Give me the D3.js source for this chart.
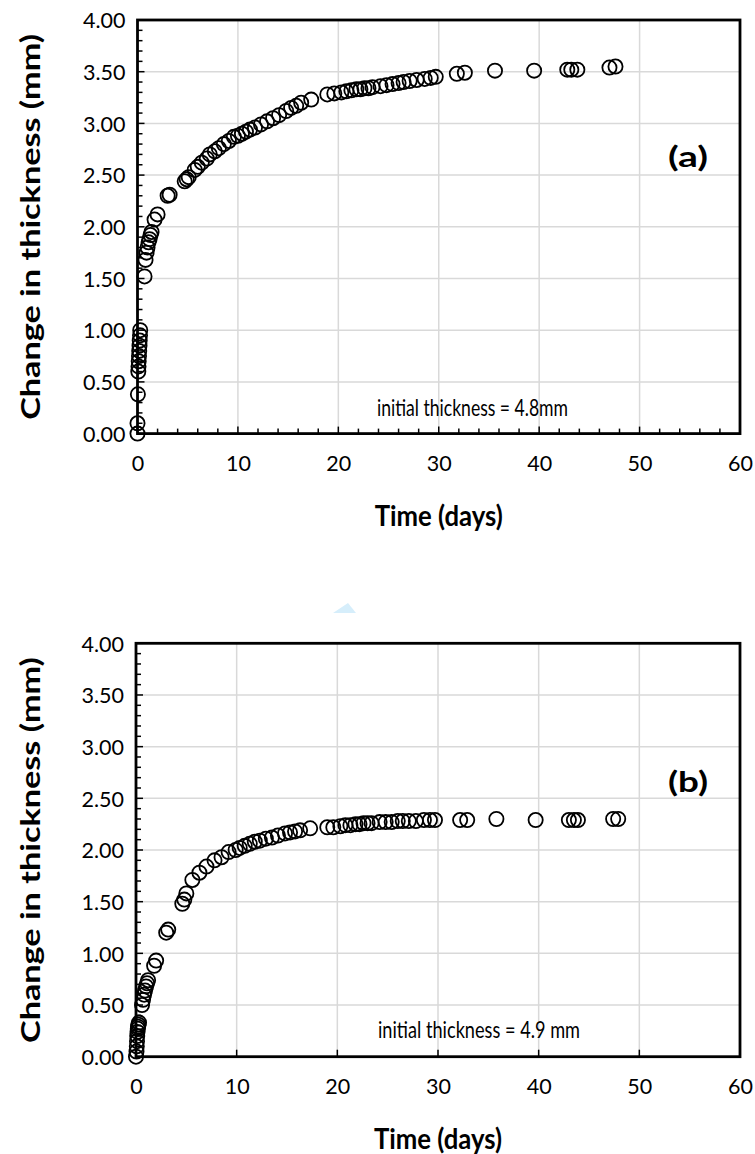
<!DOCTYPE html>
<html>
<head>
<meta charset="utf-8">
<script src="https://cdn.jsdelivr.net/npm/d3@7"></script>
<style>
  html, body { margin: 0; padding: 0; background: #fff; }
  svg { display: block; }
  text { font-family: Lato, "Open Sans", sans-serif; fill: #000; }
</style>
</head>
<body>
<svg id="chart" width="755" height="1154"></svg>
<script>
// ---- Data ----
const xTicks = [0, 10, 20, 30, 40, 50, 60];
const yTicks = [0, 0.5, 1, 1.5, 2, 2.5, 3, 3.5, 4];

const timeA = [0,0,0.04,0.08,0.1,0.12,0.15,0.17,0.2,0.22,0.25,0.27,
  0.7,0.8,0.9,1.0,1.1,1.2,1.3,1.4,1.7,2.0,3.0,3.2,4.7,4.9,5.1,
  5.7,6.0,6.4,6.9,7.2,7.7,8.1,8.6,9.1,9.6,10.0,10.4,10.8,11.2,11.7,12.3,12.9,13.5,14.1,14.8,15.3,15.8,16.3,17.3,
  18.9,19.6,20.3,20.8,21.3,21.8,22.2,22.6,23.0,23.4,24.2,24.8,25.4,26.0,26.5,27.1,27.8,28.6,29.2,29.7,
  31.8,32.6,35.6,39.5,42.8,43.2,43.8,47.0,47.6];
const thickA = [0,0.1,0.38,0.6,0.65,0.7,0.75,0.8,0.85,0.9,0.95,1.0,
  1.52,1.68,1.75,1.8,1.85,1.88,1.92,1.95,2.07,2.12,2.3,2.31,2.44,2.46,2.48,
  2.55,2.58,2.62,2.66,2.70,2.73,2.76,2.80,2.83,2.87,2.88,2.90,2.92,2.94,2.96,2.99,3.02,3.05,3.08,3.12,3.15,3.17,3.20,3.23,
  3.28,3.29,3.30,3.31,3.32,3.33,3.33,3.34,3.34,3.35,3.36,3.37,3.38,3.39,3.40,3.41,3.42,3.43,3.44,3.45,
  3.48,3.49,3.51,3.51,3.52,3.52,3.52,3.54,3.55];

const timeB = [0,0.05,0.08,0.1,0.12,0.15,0.18,0.2,0.25,0.3,
  0.6,0.7,0.8,0.9,1.0,1.1,1.2,1.8,2.0,3.0,3.2,4.6,4.8,5.0,
  5.6,6.3,7.0,7.8,8.5,9.2,9.9,10.3,10.8,11.3,11.8,12.3,12.9,13.5,14.1,14.8,15.3,15.8,16.3,17.3,
  19.0,19.6,20.3,20.8,21.3,21.8,22.2,22.6,23.0,23.4,24.2,24.8,25.4,26.0,26.5,27.1,27.8,28.6,29.2,29.7,
  32.2,32.9,35.8,39.7,43.0,43.5,43.9,47.4,47.9];
const thickB = [0,0.05,0.1,0.15,0.2,0.24,0.27,0.29,0.31,0.33,
  0.5,0.55,0.6,0.64,0.68,0.71,0.74,0.88,0.93,1.2,1.23,1.48,1.52,1.58,
  1.71,1.78,1.84,1.90,1.93,1.98,2.00,2.02,2.04,2.06,2.08,2.09,2.11,2.12,2.14,2.16,2.17,2.18,2.19,2.21,
  2.22,2.22,2.23,2.24,2.24,2.25,2.25,2.26,2.26,2.26,2.27,2.27,2.27,2.28,2.28,2.28,2.28,2.29,2.29,2.29,
  2.29,2.29,2.30,2.29,2.29,2.29,2.29,2.30,2.30];

const panels = [
  { label: "(a)", note: "initial thickness = 4.8mm", time: timeA, thick: thickA,
    top: 20, bottom: 433.6, left: 137.5, right: 740, xMinor: true,
    tagX: 688, tagY: 157, noteX: 472.5, noteY: 408, noteLen: 191 },
  { label: "(b)", note: "initial thickness = 4.9 mm", time: timeB, thick: thickB,
    top: 643.3, bottom: 1056.7, left: 136, right: 740, xMinor: false,
    tagX: 688, tagY: 782, noteX: 479, noteY: 1030, noteLen: 202 }
];

const svg = d3.select("#chart");

// faint decoration between panels
svg.append("path")
  .attr("d", "M333,613 L348,603 L356,613 Z")
  .attr("fill", "#d6eefb");

panels.forEach(p => {
  const x = d3.scaleLinear().domain([0, 60]).range([p.left, p.right]);
  const y = d3.scaleLinear().domain([0, 4]).range([p.bottom, p.top]);
  const g = svg.append("g");

  // gridlines
  g.append("g").selectAll("line").data(xTicks.slice(1, -1)).join("line")
    .attr("x1", d => x(d)).attr("x2", d => x(d))
    .attr("y1", p.top).attr("y2", p.bottom)
    .attr("stroke", "#d9d9d9").attr("stroke-width", 1.5);
  g.append("g").selectAll("line").data(yTicks.slice(1, -1)).join("line")
    .attr("x1", p.left).attr("x2", p.right)
    .attr("y1", d => y(d)).attr("y2", d => y(d))
    .attr("stroke", "#d9d9d9").attr("stroke-width", 1.5);

  // minor/major inward ticks
  const yMinor = d3.range(0, 41).map(v => v / 10);
  g.append("g").selectAll("line").data(yMinor).join("line")
    .attr("x1", p.left).attr("x2", (d, i) => p.left + (i % 5 === 0 ? 7 : 5))
    .attr("y1", d => y(d)).attr("y2", d => y(d))
    .attr("stroke", "#000").attr("stroke-width", 1.5);
  const xMinorVals = p.xMinor ? d3.range(0, 31).map(v => v * 2) : xTicks;
  g.append("g").selectAll("line").data(xMinorVals).join("line")
    .attr("x1", d => x(d)).attr("x2", d => x(d))
    .attr("y1", p.bottom).attr("y2", d => p.bottom - (d % 10 === 0 ? 7 : 5))
    .attr("stroke", "#000").attr("stroke-width", 1.5);

  // frame
  g.append("rect")
    .attr("x", p.left).attr("y", p.top)
    .attr("width", p.right - p.left).attr("height", p.bottom - p.top)
    .attr("fill", "none").attr("stroke", "#000").attr("stroke-width", 2.8);

  // tick labels via d3 axes
  const xAxis = d3.axisBottom(x).tickValues(xTicks).tickSize(0).tickPadding(0).tickFormat(d3.format("d"));
  const xa = g.append("g").attr("transform", `translate(0,${p.bottom + 37})`).call(xAxis);
  xa.select(".domain").remove();
  xa.selectAll("text").attr("font-size", 21.5).attr("dy", "0").attr("font-family", "Lato");

  const yAxis = d3.axisLeft(y).tickValues(yTicks).tickSize(0).tickPadding(0).tickFormat(d3.format(".2f"));
  const ya = g.append("g").attr("transform", `translate(${p.left - 12},0)`).call(yAxis);
  ya.select(".domain").remove();
  ya.selectAll("text").attr("font-size", 21.5).attr("dy", "0.36em").attr("font-family", "Lato");

  // points
  const pts = p.time.map((t, i) => [t, p.thick[i]]);
  g.append("g").selectAll("circle").data(pts).join("circle")
    .attr("cx", d => x(d[0])).attr("cy", d => y(d[1]))
    .attr("r", 7.1).attr("fill", "none").attr("stroke", "#000").attr("stroke-width", 1.8);

  // titles
  g.append("text")
    .attr("x", (p.left + p.right) / 2).attr("y", p.bottom + 92)
    .attr("text-anchor", "middle").attr("font-size", 28.5).attr("font-weight", "bold")
    .attr("textLength", 128).attr("lengthAdjust", "spacingAndGlyphs")
    .text("Time (days)");
  g.append("text")
    .attr("transform", `translate(40,${(p.top + p.bottom) / 2}) rotate(-90)`)
    .attr("text-anchor", "middle").attr("font-size", 27).attr("font-weight", "bold")
    .attr("textLength", 386).attr("lengthAdjust", "spacingAndGlyphs")
    .text("Change in thickness (mm)");

  g.append("text")
    .attr("x", p.tagX).attr("y", p.tagY).attr("dy", "0.35em")
    .attr("text-anchor", "middle").attr("font-size", 29).attr("font-weight", "bold")
    .attr("textLength", 40).attr("lengthAdjust", "spacingAndGlyphs")
    .text(p.label);
  g.append("text")
    .attr("x", p.noteX).attr("y", p.noteY).attr("dy", "0.36em")
    .attr("text-anchor", "middle").attr("font-size", 22.5)
    .attr("textLength", p.noteLen).attr("lengthAdjust", "spacingAndGlyphs")
    .text(p.note);
});
</script>
</body>
</html>
